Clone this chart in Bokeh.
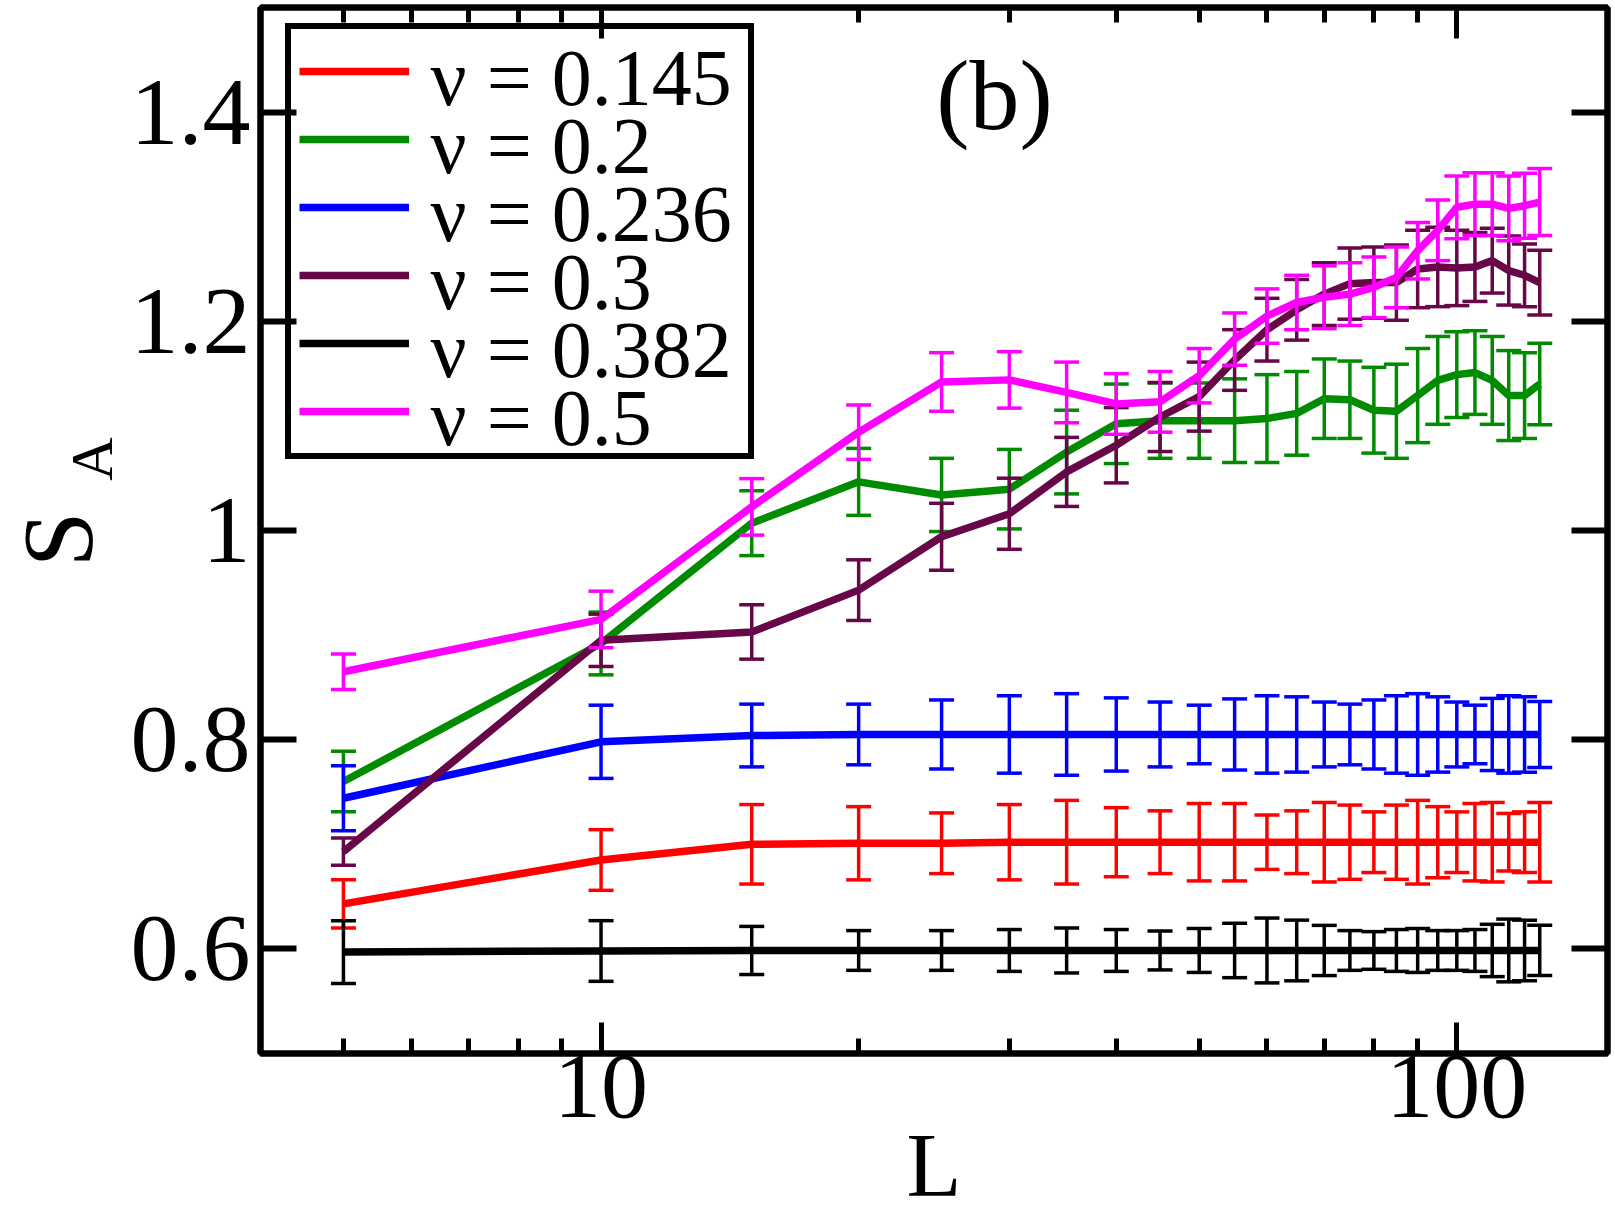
import numpy as np
from bokeh.plotting import figure
from bokeh.layouts import row
from bokeh.models import (Range1d, LinearAxis, LogAxis, FixedTicker, CustomJSTickFormatter,
                          Label, Legend, LegendItem)
from bokeh.core.properties import value
from bokeh.embed import file_html
from bokeh.resources import INLINE

# ---------------- data ----------------
L = [5, 10, 15, 20, 25, 30, 35, 40, 45, 50, 55, 60, 65, 70, 75, 80, 85, 90, 95, 100,
     105, 110, 115, 120, 125]

labels = ["ν = 0.145", "ν = 0.2", "ν = 0.236", "ν = 0.3", "ν = 0.382", "ν = 0.5"]
colors = ["#ff0000", "#008b00", "#0000ff", "#670748", "#000000", "#ff00ff"]

s_0145 = [0.643, 0.685, 0.700, 0.701, 0.701, 0.702, 0.702, 0.702, 0.702, 0.702, 0.702, 0.702,
          0.702, 0.702, 0.702, 0.702, 0.702, 0.702, 0.702, 0.702, 0.702, 0.702, 0.702, 0.702, 0.702]
e_0145 = [0.023, 0.029, 0.038, 0.035, 0.029, 0.036, 0.040, 0.033, 0.030, 0.037, 0.037, 0.026,
          0.030, 0.038, 0.0355, 0.029, 0.0355, 0.040, 0.034, 0.029, 0.037, 0.038, 0.0275, 0.029, 0.038]

s_02 = [0.760, 0.892, 1.007, 1.0465, 1.034, 1.0395, 1.075, 1.102, 1.105, 1.105, 1.105, 1.107,
        1.112, 1.126, 1.125, 1.115, 1.114, 1.129, 1.1435, 1.149, 1.151, 1.1435, 1.129, 1.129, 1.140]
e_02 = [0.029, 0.030, 0.031, 0.032, 0.035, 0.038, 0.040, 0.038, 0.036, 0.036, 0.040, 0.042,
        0.040, 0.038, 0.037, 0.041, 0.045, 0.045, 0.042, 0.041, 0.040, 0.042, 0.043, 0.041, 0.039]

s_0236 = [0.744, 0.798, 0.804, 0.805, 0.805, 0.805, 0.805, 0.805, 0.805, 0.805, 0.805, 0.805,
          0.805, 0.805, 0.805, 0.805, 0.805, 0.805, 0.805, 0.805, 0.805, 0.805, 0.805, 0.805, 0.805]
e_0236 = [0.031, 0.035, 0.030, 0.029, 0.033, 0.037, 0.039, 0.035, 0.031, 0.028, 0.034, 0.037,
          0.036, 0.031, 0.029, 0.033, 0.037, 0.039, 0.036, 0.031, 0.028, 0.0345, 0.037, 0.036, 0.0315]

s_03 = [0.693, 0.895, 0.903, 0.943, 0.994, 1.016, 1.056, 1.0815, 1.1085, 1.128, 1.163, 1.192,
        1.211, 1.226, 1.236, 1.237, 1.237, 1.250, 1.252, 1.251, 1.252, 1.258, 1.2485, 1.244, 1.237]
e_03 = [0.013, 0.025, 0.026, 0.029, 0.032, 0.034, 0.033, 0.036, 0.033, 0.033, 0.029, 0.030,
        0.029, 0.030, 0.034, 0.034, 0.036, 0.037, 0.038, 0.036, 0.033, 0.031, 0.033, 0.030, 0.031]

s_0382 = [0.597, 0.598, 0.5985, 0.5985, 0.5985, 0.5985, 0.5985, 0.5985, 0.5985, 0.5985, 0.5985,
          0.5985, 0.5985, 0.5985, 0.5985, 0.5985, 0.5985, 0.5985, 0.5985, 0.5985, 0.5985, 0.5985,
          0.5985, 0.5985, 0.5985]
e_0382 = [0.030, 0.029, 0.023, 0.019, 0.019, 0.020, 0.0215, 0.020, 0.0186, 0.021, 0.026, 0.031,
          0.029, 0.024, 0.019, 0.018, 0.020, 0.021, 0.019, 0.019, 0.020, 0.025, 0.030, 0.029, 0.024]

s_05 = [0.865, 0.915, 1.0226, 1.094, 1.142, 1.144, 1.132, 1.121, 1.123, 1.148, 1.183, 1.205,
        1.218, 1.223, 1.226, 1.2325, 1.242, 1.2675, 1.287, 1.309, 1.312, 1.312, 1.308, 1.3105, 1.314]
e_05 = [0.017, 0.027, 0.027, 0.026, 0.028, 0.027, 0.029, 0.029, 0.029, 0.026, 0.025, 0.026,
        0.026, 0.030, 0.030, 0.029, 0.029, 0.027, 0.029, 0.030, 0.030, 0.030, 0.031, 0.031, 0.032]

series = [s_0145, s_02, s_0236, s_03, s_0382, s_05]
errors = [e_0145, e_02, e_0236, e_03, e_0382, e_05]

x_major = [10, 100]
x_major_labels = ["10", "100"]
x_minor = [5, 6, 7, 8, 9, 20, 30, 40, 50, 60, 70, 80, 90]
y_major = [0.6, 0.8, 1.0, 1.2, 1.4]
y_major_labels = ["0.6", "0.8", "1", "1.2", "1.4"]

FONT = "Liberation Serif"

# ---------------- layout constants (pixels) ----------------
W, H = 1615, 1221
LEFT_STRIP = 126          # strip holding the y-axis title
MAIN_W = W - LEFT_STRIP
FRAME_L, FRAME_R, FRAME_T, FRAME_B = 260, 1607, 7, 1053

# ---------------- main figure ----------------
p = figure(width=MAIN_W, height=H, x_axis_type="log",
           x_range=Range1d(4, 150), y_range=Range1d(0.5, 1.5),
           min_border_left=FRAME_L - LEFT_STRIP, min_border_right=W - FRAME_R,
           min_border_top=FRAME_T, min_border_bottom=H - FRAME_B,
           output_backend="svg", toolbar_location=None,
           background_fill_color="white", border_fill_color="white")
p.grid.visible = False
p.outline_line_color = "black"
p.outline_line_width = 6

empty_fmt = CustomJSTickFormatter(code="return ''")

def style_x(ax, labelled):
    ax.ticker = FixedTicker(ticks=x_major, minor_ticks=x_minor)
    ax.axis_line_width = 6
    ax.major_tick_in = 31
    ax.major_tick_out = 0
    ax.minor_tick_in = 15
    ax.minor_tick_out = 0
    ax.major_tick_line_width = 5
    ax.minor_tick_line_width = 5
    if labelled:
        ax.major_label_overrides = dict(zip(x_major, x_major_labels))
        ax.major_label_text_font = FONT
        ax.major_label_text_font_size = "94px"
        ax.major_label_text_color = "black"
        ax.major_label_standoff = 2
        ax.axis_label = "L"
        ax.axis_label_text_font = FONT
        ax.axis_label_text_font_size = "90px"
        ax.axis_label_text_font_style = "normal"
        ax.axis_label_text_color = "black"
        ax.axis_label_standoff = -4
    else:
        ax.formatter = empty_fmt
        ax.major_label_text_font_size = "1px"
        ax.major_label_standoff = 0

def style_y(ax, labelled):
    ax.ticker = FixedTicker(ticks=y_major)
    ax.axis_line_width = 6
    ax.major_tick_in = 36
    ax.major_tick_out = 0
    ax.minor_tick_line_color = None
    ax.major_tick_line_width = 6
    if labelled:
        ax.major_label_overrides = dict(zip(y_major, y_major_labels))
        ax.major_label_text_font = FONT
        ax.major_label_text_font_size = "96px"
        ax.major_label_text_color = "black"
        ax.major_label_standoff = 10
    else:
        ax.formatter = empty_fmt
        ax.major_label_text_font_size = "1px"
        ax.major_label_standoff = 0

style_x(p.xaxis[0], True)
style_y(p.yaxis[0], True)

top_ax = LogAxis()
style_x(top_ax, False)
p.add_layout(top_ax, "above")
right_ax = LinearAxis()
style_y(right_ax, False)
p.add_layout(right_ax, "right")

# ---------------- data marks ----------------
items = []
for lab, col, vals, errs in zip(labels, colors, series, errors):
    lo = [v - e for v, e in zip(vals, errs)]
    hi = [v + e for v, e in zip(vals, errs)]
    r = p.line(L, vals, line_color=col, line_width=7.5)
    p.segment(x0=L, y0=lo, x1=L, y1=hi, line_color=col, line_width=3.5)
    p.scatter(L, hi, marker="dash", size=25, line_color=col, line_width=3.5)
    p.scatter(L, lo, marker="dash", size=25, line_color=col, line_width=3.5)
    items.append(LegendItem(label=" ", renderers=[r]))

# legend box (glyphs) + texts drawn as labels so that the row spacing matches
LEG_X, LEG_BOTTOM = 25, 594
LEG_PAD, LEG_ROW, LEG_GLYPH_W, LEG_STANDOFF = 8, 68, 110, 27
legend = Legend(items=items, location=(LEG_X, LEG_BOTTOM), level="annotation")
legend.label_text_font = FONT
legend.label_text_font_size = "20px"
legend.label_height = LEG_ROW
legend.glyph_height = LEG_ROW
legend.glyph_width = LEG_GLYPH_W
legend.label_standoff = LEG_STANDOFF
legend.label_width = 304
legend.padding = LEG_PAD
legend.spacing = 0
legend.margin = 0
legend.border_line_color = "black"
legend.border_line_alpha = 1.0
legend.border_line_width = 6.5
legend.background_fill_alpha = 0.0
p.add_layout(legend, "center")

leg_top = LEG_BOTTOM + 2 * LEG_PAD + LEG_ROW * len(labels)
for i, lab in enumerate(labels):
    p.add_layout(Label(x=LEG_X + LEG_PAD + LEG_GLYPH_W + LEG_STANDOFF,
                       y=leg_top - LEG_PAD - LEG_ROW * (i + 0.5),
                       x_units="screen", y_units="screen", text=lab,
                       text_align="left", text_baseline="middle", level="overlay",
                       text_font=FONT, text_font_size="80px", text_color="black"))

p.add_layout(Label(x=734, y=958, x_units="screen", y_units="screen", text="(b)",
                   text_align="center", text_baseline="middle", level="overlay",
                   text_font=FONT, text_font_size="100px", text_color="black"))

# ---------------- y-axis title (S with subscript A) in a side strip ----------------
ls = figure(width=LEFT_STRIP, height=H, x_range=Range1d(0, LEFT_STRIP), y_range=Range1d(0, H),
            min_border=0, output_backend="svg", toolbar_location=None,
            background_fill_color="white", border_fill_color="white")
ls.axis.visible = False
ls.grid.visible = False
ls.outline_line_color = None
ls.text(x=[57], y=[H - 621], text=["S"], angle=np.pi / 2, text_align="center",
        text_baseline="middle", text_font=value(FONT), text_font_size="100px", text_color="black")
ls.text(x=[91], y=[H - 527], text=["A"], angle=np.pi / 2, text_align="center",
        text_baseline="middle", text_font=value(FONT), text_font_size="60px", text_color="black")

layout = row(ls, p, spacing=0)

open("out.html", "w").write(file_html(layout, INLINE))
